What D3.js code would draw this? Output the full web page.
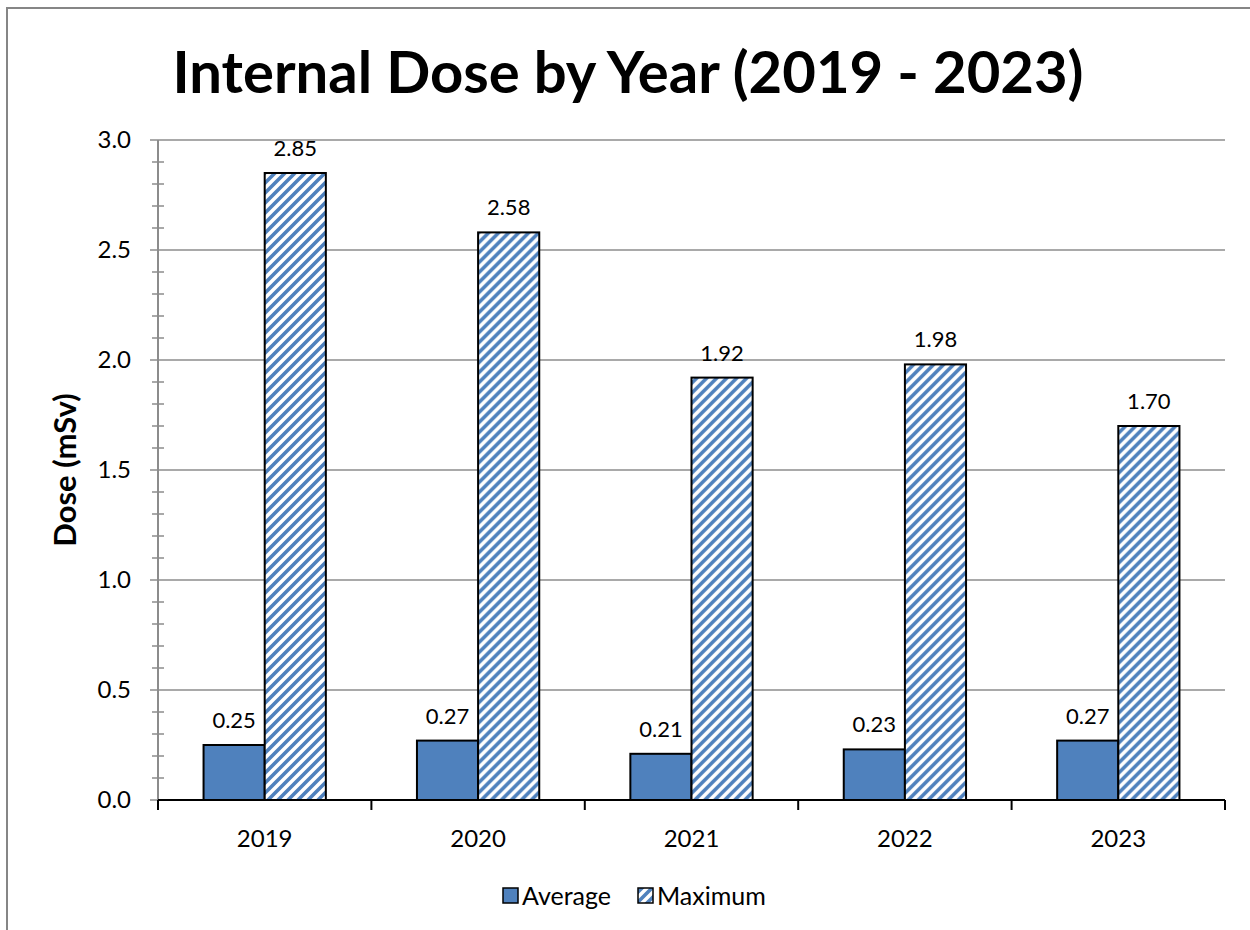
<!DOCTYPE html>
<html>
<head>
<meta charset="utf-8">
<script src="https://cdn.jsdelivr.net/npm/d3@7"></script>
<style>
  body { margin: 0; background: #fff; }
  svg { display: block; font-family: Lato, "Open Sans", sans-serif; }
</style>
</head>
<body>
<svg id="chart" width="1250" height="930"></svg>
<script>
var years = ["2019", "2020", "2021", "2022", "2023"];
var average = [0.25, 0.27, 0.21, 0.23, 0.27];
var maximum = [2.85, 2.58, 1.92, 1.98, 1.70];
var seriesNames = ["Average", "Maximum"];
var yTicks = [0, 0.5, 1.0, 1.5, 2.0, 2.5, 3.0];

var blue = "#4F81BD";
var plotLeft = 158, plotRight = 1225, plotTop = 140, plotBottom = 800;

var svg = d3.select("#chart");

// diagonal hatch for the Maximum series
var hs = 10;
var pat = svg.append("defs").append("pattern")
    .attr("id", "hatch")
    .attr("patternUnits", "userSpaceOnUse")
    .attr("width", hs)
    .attr("height", hs);
pat.append("rect").attr("width", hs).attr("height", hs).attr("fill", "#fff");
pat.append("path")
    .attr("d", "M-3,3 L3,-3 M0," + hs + " L" + hs + ",0 M" + (hs - 3) + "," + (hs + 3) + " L" + (hs + 3) + "," + (hs - 3))
    .attr("stroke", blue)
    .attr("stroke-width", 3.6);

// outer border (chart is cropped at right/bottom)
svg.append("rect")
    .attr("x", 7).attr("y", 8)
    .attr("width", 1260).attr("height", 940)
    .attr("fill", "none")
    .attr("stroke", "#868686")
    .attr("stroke-width", 2);

var x = d3.scaleBand()
    .domain(years)
    .range([plotLeft, plotRight])
    .paddingInner(0)
    .paddingOuter(0);

var inner = d3.scaleBand()
    .domain(seriesNames)
    .range([0, x.bandwidth()])
    .paddingOuter(0.745)
    .paddingInner(0);

var y = d3.scaleLinear()
    .domain([0, 3])
    .range([plotBottom, plotTop]);

// gridlines
svg.append("g").selectAll("line")
    .data(yTicks.slice(1))
    .enter().append("line")
    .attr("x1", plotLeft - 8).attr("x2", plotRight)
    .attr("y1", function(d) { return y(d); })
    .attr("y2", function(d) { return y(d); })
    .attr("stroke", "#8c8c8c")
    .attr("stroke-width", 1.5);

// y axis with minor ticks
var yAxis = svg.append("g").attr("transform", "translate(" + plotLeft + ",0)");
yAxis.append("line")
    .attr("y1", y(3)).attr("y2", plotBottom + 10)
    .attr("stroke", "#8c8c8c").attr("stroke-width", 2);
yAxis.selectAll(".minor")
    .data(d3.range(0, 31).filter(function(i) { return i % 5 !== 0; }).map(function(i) { return i / 10; }))
    .enter().append("line")
    .attr("x1", -6).attr("x2", 6)
    .attr("y1", function(d) { return y(d); })
    .attr("y2", function(d) { return y(d); })
    .attr("stroke", "#8c8c8c").attr("stroke-width", 1.5);
yAxis.append("line")
    .attr("x1", -8).attr("x2", 0)
    .attr("y1", y(0)).attr("y2", y(0))
    .attr("stroke", "#8c8c8c").attr("stroke-width", 1.5);
yAxis.selectAll("text")
    .data(yTicks)
    .enter().append("text")
    .attr("x", -27)
    .attr("y", function(d) { return y(d); })
    .attr("dy", "0.35em")
    .attr("text-anchor", "end")
    .attr("font-size", 24)
    .text(function(d) { return d3.format(".1f")(d); });

// bars
var groups = svg.append("g").selectAll("g")
    .data(years)
    .enter().append("g")
    .attr("transform", function(d) { return "translate(" + x(d) + ",0)"; });

groups.each(function(yr, i) {
    var g = d3.select(this);
    var vals = [average[i], maximum[i]];
    g.selectAll("rect")
        .data(vals)
        .enter().append("rect")
        .attr("x", function(d, j) { return inner(seriesNames[j]); })
        .attr("width", inner.bandwidth())
        .attr("y", function(d) { return y(d); })
        .attr("height", function(d) { return plotBottom - y(d); })
        .attr("fill", function(d, j) { return j === 0 ? blue : "url(#hatch)"; })
        .attr("stroke", "#000")
        .attr("stroke-width", 2);
    g.selectAll("text")
        .data(vals)
        .enter().append("text")
        .attr("x", function(d, j) { return inner(seriesNames[j]) + inner.bandwidth() / 2; })
        .attr("y", function(d) { return y(d) - 17; })
        .attr("text-anchor", "middle")
        .attr("font-size", 22)
        .text(function(d) { return d3.format(".2f")(d); });
});

// x axis
var xAxis = svg.append("g");
xAxis.append("line")
    .attr("x1", plotLeft).attr("x2", plotRight)
    .attr("y1", plotBottom).attr("y2", plotBottom)
    .attr("stroke", "#000").attr("stroke-width", 2);
xAxis.selectAll(".tick")
    .data(years.map(function(d) { return x(d); }).concat([plotRight]))
    .enter().append("line")
    .attr("x1", function(d) { return d; }).attr("x2", function(d) { return d; })
    .attr("y1", plotBottom).attr("y2", plotBottom + 10)
    .attr("stroke", "#000").attr("stroke-width", 2);
xAxis.selectAll("text")
    .data(years)
    .enter().append("text")
    .attr("x", function(d) { return x(d) + x.bandwidth() / 2; })
    .attr("y", plotBottom + 47)
    .attr("text-anchor", "middle")
    .attr("font-size", 24)
    .text(function(d) { return d; });

// title
svg.append("text")
    .attr("x", 628).attr("y", 93)
    .attr("text-anchor", "middle")
    .attr("font-size", 58)
    .attr("font-weight", "bold")
    .text("Internal Dose by Year (2019 - 2023)");

// y label
svg.append("text")
    .attr("transform", "translate(76,470) rotate(-90)")
    .attr("text-anchor", "middle")
    .attr("font-size", 31)
    .attr("font-weight", "bold")
    .text("Dose (mSv)");

// legend
var legend = svg.append("g");
var legendX = [503, 638];
seriesNames.forEach(function(name, i) {
    legend.append("rect")
        .attr("x", legendX[i]).attr("y", 888)
        .attr("width", 15).attr("height", 15)
        .attr("fill", i === 0 ? blue : "url(#hatch)")
        .attr("stroke", "#000").attr("stroke-width", 1.5);
    legend.append("text")
        .attr("x", legendX[i] + 19).attr("y", 896)
        .attr("dy", "0.35em")
        .attr("font-size", 25)
        .text(name);
});
</script>
</body>
</html>
